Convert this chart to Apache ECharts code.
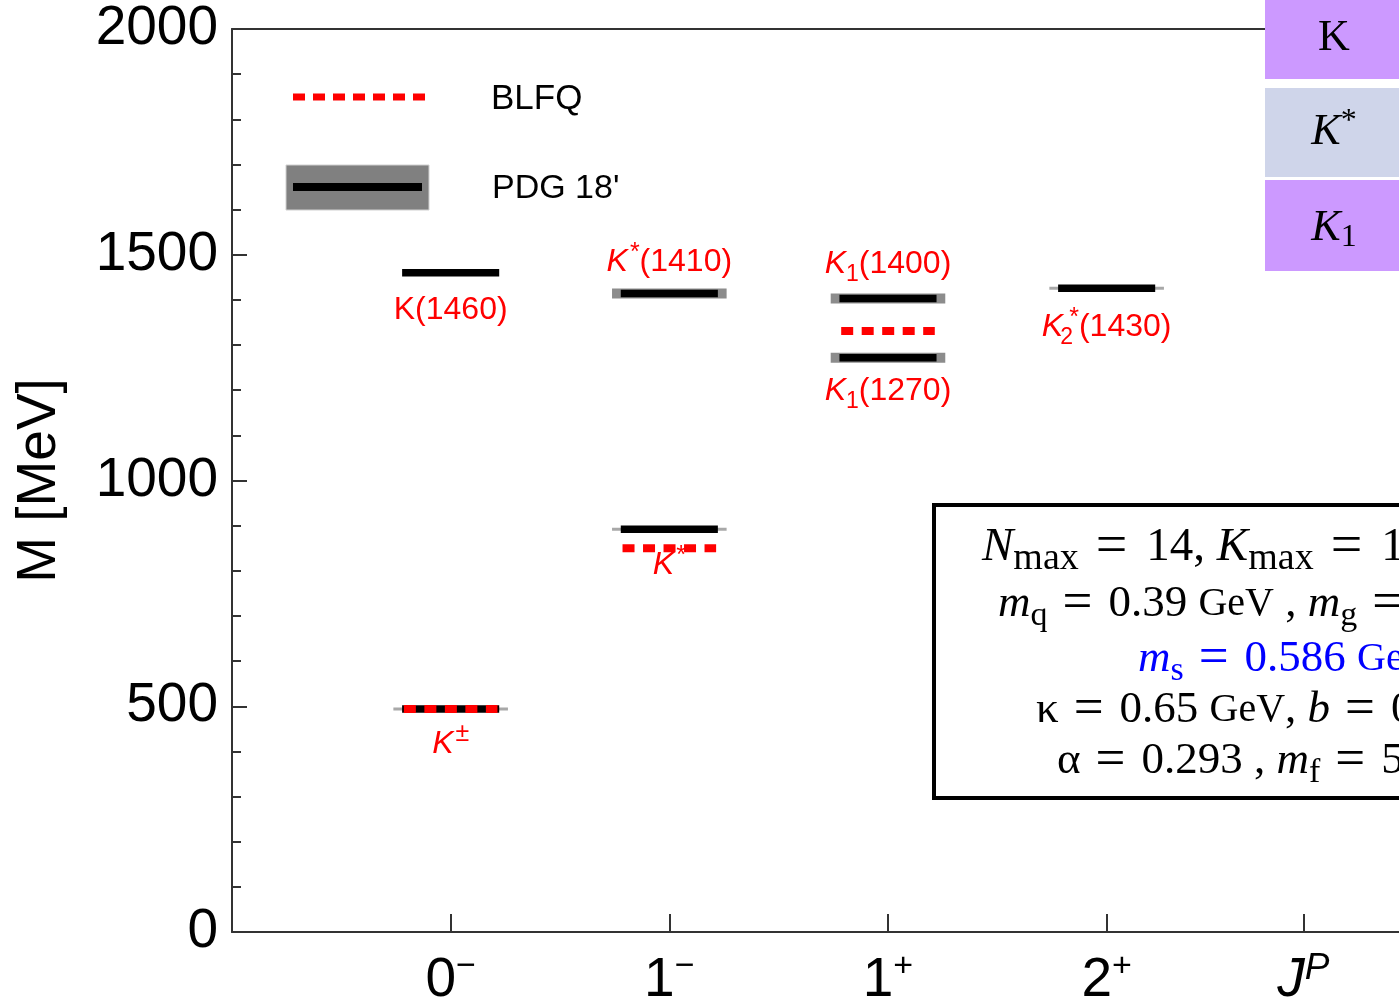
<!DOCTYPE html>
<html>
<head>
<meta charset="utf-8">
<script src="https://cdn.jsdelivr.net/npm/echarts@6/dist/echarts.min.js"></script>
<style>
  html, body { margin: 0; padding: 0; background: #fff; }
  #chart { width: 1399px; height: 1000px; }
</style>
</head>
<body>
<div id="chart"></div>
<script>
// J^P columns along the horizontal axis
const jpSpin = ['0', '1', '1', '2'];
const jpParity = ['−', '−', '+', '+'];
const jpPositions = [1, 2, 3, 4];
const jpTitlePosition = 4.9;

// PDG 2018 kaon states: column, mass (MeV), mass uncertainty (MeV), name
const pdgColumn = [0, 0, 1, 1, 2, 2, 3];
const pdgMass = [494, 1460, 892, 1414, 1403, 1272, 1426];
const pdgMassErr = [0.02, 0, 0.2, 15, 7, 7, 1.5];
const pdgName = [
  '{i|K}{sup|±}',
  '{n|K(1460)}',
  '{i|K}{sup|*}',
  '{i|K}{sup|*}{n|(1410)}',
  '{i|K}{sub|1}{n|(1400)}',
  '{i|K}{sub|1}{n|(1270)}',
  '{i|K}{subStack|2}{sup|*}{n|(1430)}'
];

// BLFQ masses (MeV)
const blfqColumn = [0, 1, 2];
const blfqMass = [494, 850, 1331];

// mass axis
const massMin = 0;
const massMax = 2000;
const massStep = 500;

const SANS = '"Liberation Sans", Arial, sans-serif';
const SERIF = '"Liberation Serif", "Times New Roman", serif';
const AXIS = '#333';

// where each state name sits relative to its bar (px, negative = above)
const nameOffset = [35, 37, 36, -31, -34, 33, 39];

const nameRich = {
  n: { fontSize: 32, fontFamily: SANS, fill: '#f00', lineHeight: 44 },
  i: { fontSize: 32, fontFamily: SANS, fontStyle: 'italic', fill: '#f00', lineHeight: 44 },
  sup: { fontSize: 25, fontFamily: SANS, fill: '#f00', verticalAlign: 'top', padding: [0, 0, 0, 2] },
  sub: { fontSize: 23, fontFamily: SANS, fill: '#f00', verticalAlign: 'bottom' },
  subStack: { fontSize: 23, fontFamily: SANS, fill: '#f00', verticalAlign: 'bottom', width: 1, align: 'left', padding: [0, 0, 0, 3] }
};

function renderPdg(params, api) {
  const idx = api.value(3);
  const err = api.value(2);
  const p = api.coord([api.value(0), api.value(1)]);
  const bw = api.size([0.222, 0])[0];
  const gw = api.size([0.262, 0])[0];
  const children = [];
  if (err >= 5) {
    children.push({ type: 'rect', shape: { x: p[0] - gw, y: p[1] - 5, width: 2 * gw, height: 10 }, style: { fill: '#8c8c8c' } });
  } else if (err > 0) {
    children.push({ type: 'rect', shape: { x: p[0] - gw, y: p[1] - 1.5, width: 2 * gw, height: 3 }, style: { fill: '#a8a8a8' } });
  }
  children.push({ type: 'rect', shape: { x: p[0] - bw, y: p[1] - 3.75, width: 2 * bw, height: 7.5 }, style: { fill: '#000' } });
  children.push({
    type: 'text', x: p[0], y: p[1] + nameOffset[idx],
    style: { text: pdgName[idx], rich: nameRich, align: 'center', verticalAlign: 'middle', fill: '#f00', fontSize: 32, fontFamily: SANS }
  });
  return { type: 'group', children };
}

function renderBlfq(params, api) {
  const p = api.coord([api.value(0), api.value(1)]);
  const hw = api.size([0.214, 0])[0];
  return {
    type: 'line',
    shape: { x1: p[0] - hw, y1: p[1], x2: p[0] + hw, y2: p[1] },
    style: { stroke: '#f00', lineWidth: 8, lineDash: [12, 8.5], lineCap: 'butt' }
  };
}

const tickValues = jpPositions.concat([jpTitlePosition]);

function jpLabel(v) {
  const k = jpPositions.indexOf(v);
  if (k >= 0) return '{n|' + jpSpin[k] + '}{s|' + jpParity[k] + '}';
  return '{ji|J}{si|P}';
}

const xRange = { min: 0, max: 5.337 };

// math-style text for the parameter panel
function mathRich(size, subSize, eqSize, eqPad, color) {
  return {
    n: { fontSize: size, fontFamily: SERIF, lineHeight: size + 13, fill: color },
    u: { fontSize: size - 5, fontFamily: SERIF, lineHeight: size + 13, fill: color },
    i: { fontSize: size, fontFamily: SERIF, fontStyle: 'italic', lineHeight: size + 13, fill: color },
    eq: { fontSize: eqSize, fontFamily: SERIF, lineHeight: size + 13, fill: color, padding: [0, eqPad[1], 0, eqPad[0]] },
    sub: { fontSize: subSize, fontFamily: SERIF, verticalAlign: 'bottom', fill: color }
  };
}

function mathLine(x, y, text, size, subSize, eqSize, eqPad, color) {
  return {
    type: 'text', x: x, y: y, z: 31,
    style: { text: text, align: 'left', verticalAlign: 'middle', fill: color, rich: mathRich(size, subSize, eqSize, eqPad, color) }
  };
}

const chart = echarts.init(document.getElementById('chart'), null, { renderer: 'canvas' });

const option = {
  animation: false,
  backgroundColor: '#fff',
  grid: { left: 232, right: 0, top: 29, bottom: 68, containLabel: false, outerBoundsMode: 'none' },
  xAxis: [
    {
      type: 'value', min: xRange.min, max: xRange.max, position: 'bottom',
      axisLine: { show: true, onZero: false, lineStyle: { color: AXIS, width: 2 } },
      axisTick: { show: true, inside: true, length: 18, customValues: tickValues, lineStyle: { color: AXIS, width: 2 } },
      axisLabel: {
        customValues: tickValues, formatter: jpLabel, margin: 18, color: '#000',
        rich: {
          n: { fontSize: 55, fontFamily: SANS, color: '#000', lineHeight: 62 },
          s: { fontSize: 34, fontFamily: SANS, color: '#000', verticalAlign: 'top' },
          ji: { fontSize: 55, fontFamily: SANS, fontStyle: 'italic', color: '#000', lineHeight: 62 },
          si: { fontSize: 37, fontFamily: SANS, fontStyle: 'italic', color: '#000', verticalAlign: 'top' }
        }
      },
      splitLine: { show: false }
    },
    {
      type: 'value', min: xRange.min, max: xRange.max, position: 'top',
      axisLine: { show: true, onZero: false, lineStyle: { color: AXIS, width: 2 } },
      axisTick: { show: false }, axisLabel: { show: false }, splitLine: { show: false }
    }
  ],
  yAxis: {
    type: 'value', min: massMin, max: massMax, interval: massStep,
    name: 'M [MeV]', nameLocation: 'middle', nameGap: 165, nameRotate: 90,
    nameTextStyle: { fontSize: 55, fontFamily: SANS, color: '#000' },
    axisLine: { show: true, lineStyle: { color: AXIS, width: 2 } },
    axisTick: { show: true, inside: true, length: 15, lineStyle: { color: AXIS, width: 2 } },
    minorTick: { show: true, splitNumber: 5, length: 9, lineStyle: { color: AXIS, width: 2 } },
    axisLabel: { fontSize: 55, fontFamily: SANS, color: '#000', margin: 14, formatter: v => String(v) },
    splitLine: { show: false }
  },
  series: [
    {
      name: 'PDG 18\'', type: 'custom', renderItem: renderPdg, z: 2,
      data: pdgMass.map((m, i) => [jpPositions[pdgColumn[i]], m, pdgMassErr[i], i])
    },
    {
      name: 'BLFQ', type: 'custom', renderItem: renderBlfq, z: 3,
      data: blfqMass.map((m, i) => [jpPositions[blfqColumn[i]], m])
    }
  ],
  graphic: [
    // legend
    { type: 'line', shape: { x1: 293, y1: 97, x2: 425, y2: 97 }, style: { stroke: '#f00', lineWidth: 7, lineDash: [12, 8], lineCap: 'butt' }, z: 10 },
    { type: 'text', x: 491, y: 99, style: { text: 'BLFQ', fontSize: 35, fontFamily: SANS, fill: '#000', align: 'left', verticalAlign: 'middle' }, z: 10 },
    { type: 'rect', shape: { x: 286, y: 165, width: 143, height: 45 }, style: { fill: '#808080', stroke: '#d0d0d0', lineWidth: 1 }, z: 10 },
    { type: 'rect', shape: { x: 293, y: 183, width: 129, height: 8 }, style: { fill: '#000' }, z: 11 },
    { type: 'text', x: 492, y: 189, style: { text: 'PDG 18\'', fontSize: 34, fontFamily: SANS, fill: '#000', align: 'left', verticalAlign: 'middle' }, z: 10 },

    // family tags
    { type: 'rect', shape: { x: 1265, y: 0, width: 140, height: 79 }, style: { fill: '#cc99ff' }, z: 20 },
    { type: 'text', x: 1334, y: 38, style: { text: 'K', fontSize: 44, fontFamily: SERIF, fill: '#000', align: 'center', verticalAlign: 'middle' }, z: 21 },
    { type: 'rect', shape: { x: 1265, y: 88, width: 140, height: 89 }, style: { fill: '#cfd5ea' }, z: 20 },
    { type: 'text', x: 1334, y: 132, style: {
        text: '{i|K}{sup|*}', align: 'center', verticalAlign: 'middle', fill: '#000',
        rich: { i: { fontSize: 44, fontFamily: SERIF, fontStyle: 'italic', lineHeight: 52 }, sup: { fontSize: 32, fontFamily: SERIF, verticalAlign: 'top' } }
      }, z: 21 },
    { type: 'rect', shape: { x: 1265, y: 180, width: 140, height: 91 }, style: { fill: '#cc99ff' }, z: 20 },
    { type: 'text', x: 1334, y: 228, style: {
        text: '{i|K}{sub|1}', align: 'center', verticalAlign: 'middle', fill: '#000',
        rich: { i: { fontSize: 44, fontFamily: SERIF, fontStyle: 'italic', lineHeight: 52 }, sub: { fontSize: 32, fontFamily: SERIF, verticalAlign: 'bottom' } }
      }, z: 21 },

    // model parameters
    { type: 'rect', shape: { x: 934, y: 505, width: 520, height: 293 }, style: { fill: '#fff', stroke: '#000', lineWidth: 4 }, z: 30 },
    mathLine(982, 548, '{i|N}{sub|max}{eq|=}{n|14, }{i|K}{sub|max}{eq|=}{n|14}', 47, 38, 56, [17, 19], '#000'),
    mathLine(998, 604, '{i|m}{sub|q}{eq|=}{n|0.39 }{u|GeV}{n| , }{i|m}{sub|g}{eq|=}{n|0.6 }{u|GeV}', 45, 34, 53, [15, 16], '#000'),
    mathLine(1138, 659, '{i|m}{sub|s}{eq|=}{n|0.586 }{u|GeV}', 45, 34, 53, [15, 16], '#0000ff'),
    mathLine(1036, 710, '{n|κ}{eq|=}{n|0.65 }{u|GeV}{n|, }{i|b}{eq|=}{n|0.29 }{u|GeV}', 45, 34, 53, [15, 16], '#000'),
    mathLine(1057, 761, '{n|α}{eq|=}{n|0.293 , }{i|m}{sub|f}{eq|=}{n|5.69 }{u|GeV}', 45, 34, 53, [15, 16], '#000')
  ]
};

chart.setOption(option);
</script>
</body>
</html>
